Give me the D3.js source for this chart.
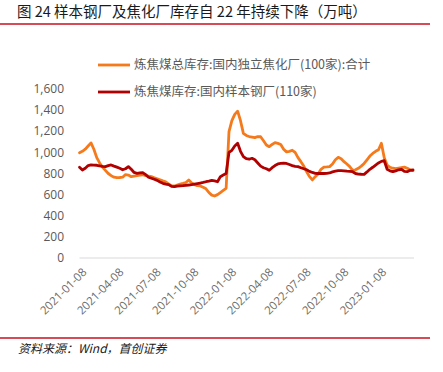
<!DOCTYPE html>
<html>
<head>
<meta charset="utf-8">
<script src="https://cdn.jsdelivr.net/npm/d3@7"></script>
<style>
  body { margin: 0; background: #fff; }
  svg { display: block; }
</style>
</head>
<body>
<div id="chart"></div>
<script>
// weekly data, first week 2021-01-08
const startDate = "2021-01-08";
const cokePlantStock = [
  997, 1010, 1030, 1060, 1090, 1030, 950, 900, 860, 830,
  800, 780, 765, 760, 762, 765, 790, 785, 770, 775,
  780, 785, 788, 780, 775, 770, 760, 750, 740, 730,
  722, 700, 685, 680, 690, 700, 707, 715, 738, 710,
  695, 685, 682, 670, 655, 620, 595, 587, 600, 620,
  640, 660, 1196, 1300, 1360, 1390, 1300, 1180, 1160, 1150,
  1145, 1140, 1150, 1148, 1110, 1070, 1054, 1075, 1092, 1085,
  1075, 1030, 1005, 1010, 1020, 1000, 950, 912, 870, 817,
  770, 739, 770, 795, 840, 860, 862, 865, 890, 930,
  953, 940, 912, 890, 865, 830, 835, 849, 870, 895,
  930, 965, 990, 1010, 1025, 1086, 950, 880, 859, 850,
  845, 850, 855, 860, 850, 835, 827
];
const steelMillStock = [
  859, 833, 850, 875, 881, 880, 878, 872, 868, 865,
  875, 881, 870, 860, 849, 835, 845, 865, 840, 810,
  802, 805, 808, 790, 765, 755, 745, 735, 720, 707,
  700, 695, 678, 675, 680, 683, 685, 688, 691, 695,
  700, 705, 710, 715, 722, 728, 735, 730, 722, 770,
  785, 800, 1000, 1020, 1060, 1086, 1010, 960, 940, 935,
  944, 930, 900, 870, 855, 845, 830, 855, 875, 890,
  895, 897, 895, 885, 875, 868, 865, 855, 845, 835,
  820, 810, 802, 800, 800, 800, 802, 805, 815, 822,
  827, 827, 825, 822, 820, 817, 800, 795, 793, 792,
  815, 840, 859, 880, 900, 915, 921, 840, 825, 817,
  825, 835, 840, 820, 817, 830, 833
];
const seriesNames = [
  "炼焦煤总库存:国内独立焦化厂(100家):合计",
  "炼焦煤库存:国内样本钢厂(110家)"
];
const seriesColors = ["#f47a1c", "#b00000"];
const xTickLabels = [
  "2021-01-08", "2021-04-08", "2021-07-08", "2021-10-08", "2022-01-08",
  "2022-04-08", "2022-07-08", "2022-10-08", "2023-01-08"
];
const yTicks = [0, 200, 400, 600, 800, 1000, 1200, 1400, 1600];

const width = 443, height = 372;
const parse = d3.timeParse("%Y-%m-%d");
const t0 = parse(startDate);
const dates = cokePlantStock.map((v, i) => d3.timeDay.offset(t0, 7 * i));

const svg = d3.select("#chart").append("svg")
    .attr("width", width)
    .attr("height", height);

// title + red rules
svg.append("text")
    .attr("x", 17).attr("y", 17)
    .style("font-family", "'Noto Sans CJK SC', sans-serif")
    .style("font-size", "14.5px")
    .attr("fill", "#1a1a1a")
    .text("图 24 样本钢厂及焦化厂库存自 22 年持续下降（万吨）");
svg.append("line")
    .attr("x1", 0).attr("x2", 430).attr("y1", 24).attr("y2", 24)
    .attr("stroke", "#c8101e").attr("stroke-width", 1.6);
svg.append("line")
    .attr("x1", 0).attr("x2", 430).attr("y1", 338).attr("y2", 338)
    .attr("stroke", "#c8101e").attr("stroke-width", 1.6);
svg.append("text")
    .attr("x", 18).attr("y", 353)
    .style("font-family", "'Noto Sans CJK SC', sans-serif")
    .style("font-size", "12px")
    .style("font-style", "italic")
    .attr("fill", "#1a1a1a")
    .text("资料来源：Wind，首创证券");

const x = d3.scaleTime()
    .domain([dates[0], dates[dates.length - 1]])
    .range([79.5, 413]);
const y = d3.scaleLinear()
    .domain([0, 1600])
    .range([258, 89]);

// y axis labels
svg.append("g")
    .selectAll("text")
    .data(yTicks)
    .enter().append("text")
    .attr("x", 64)
    .attr("y", d => y(d))
    .attr("dy", "0.35em")
    .attr("text-anchor", "end")
    .style("font-family", "'Open Sans', sans-serif")
    .style("font-size", "12px")
    .attr("fill", "#595959")
    .text(d => d3.format(",")(d));

// x baseline
svg.append("line")
    .attr("x1", 79.5).attr("x2", 414)
    .attr("y1", y(0)).attr("y2", y(0))
    .attr("stroke", "#d9d9d9").attr("stroke-width", 1);

svg.append("g")
    .selectAll("text")
    .data(xTickLabels)
    .enter().append("text")
    .attr("transform", d => `translate(${x(parse(d)) + 5}, ${y(0) + 12}) rotate(-45)`)
    .attr("dy", "0.35em")
    .attr("text-anchor", "end")
    .style("font-family", "'Open Sans', sans-serif")
    .style("font-size", "11.5px")
    .attr("fill", "#6b6b6b")
    .text(d => d);

const line = d3.line()
    .x((d, i) => x(dates[i]))
    .y(d => y(d));

[cokePlantStock, steelMillStock].forEach((s, k) => {
    svg.append("path")
        .datum(s)
        .attr("fill", "none")
        .attr("stroke", seriesColors[k])
        .attr("stroke-width", 2.8)
        .attr("stroke-linejoin", "round")
        .attr("stroke-linecap", "round")
        .attr("d", line);
});

// legend
const legend = svg.append("g")
    .selectAll("g")
    .data(seriesNames)
    .enter().append("g")
    .attr("transform", (d, i) => `translate(98, ${65 + i * 27})`);
legend.append("line")
    .attr("x1", 0).attr("x2", 32)
    .attr("stroke", (d, i) => seriesColors[i])
    .attr("stroke-width", 2.8);
legend.append("text")
    .attr("x", 36)
    .attr("dy", "0.35em")
    .style("font-family", "'Noto Sans CJK SC', sans-serif")
    .style("font-size", "12.5px")
    .attr("fill", "#595959")
    .text(d => d);
</script>
</body>
</html>
